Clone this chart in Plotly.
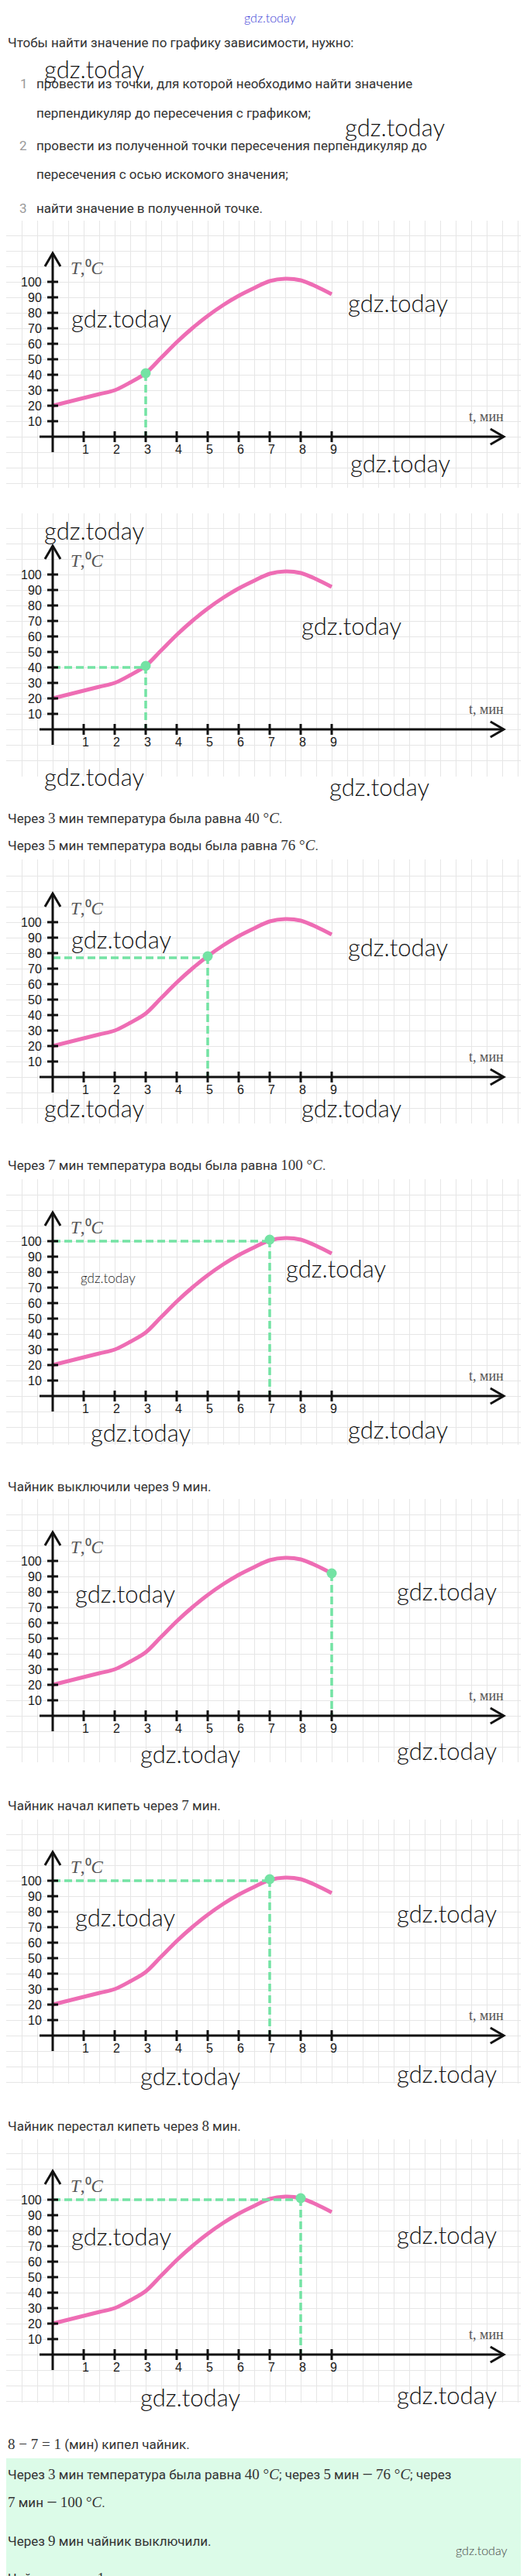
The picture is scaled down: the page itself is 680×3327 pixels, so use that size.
import plotly.graph_objects as go

W, H = 680, 3327

# ---------------- data ----------------
time_min = [0, 0.5, 1, 1.5, 2, 2.5, 3, 3.5, 4, 4.5, 5, 5.5, 6, 6.5, 7, 7.5, 8, 8.5, 9]
temp_c = [20, 22.5, 25, 27.5, 30, 35, 41, 51, 61, 70, 78, 85, 91, 96, 100.5, 102, 101, 97, 92]
x_ticks = [1, 2, 3, 4, 5, 6, 7, 8, 9]
y_ticks = [10, 20, 30, 40, 50, 60, 70, 80, 90, 100]

# reading point for each of the 7 panels
point_t = [3, 3, 5, 7, 9, 7, 8]
point_T = [41, 41, 78, 101, 92, 101, 101]
level_T = [None, 40, 77, 100, None, 100, 100]

# ---------------- layout constants (pixels) ----------------
panel_top = [277, 655, 1102, 1515, 1928, 2342, 2755]
panel_axis = [556, 934, 1383, 1795, 2208, 2621, 3033]
panel_bottom = [622, 995, 1443, 1858, 2268, 2683, 3095]
ORIGIN_X = 60
PX_PER_MIN = 40
PX_PER_DEG = 2

PINK = "#ee6db4"
GREEN = "#74e3a4"
GRID = "#e6e6e6"
AXIS = "#111111"
TEXT = "#333333"
WM_FONT = dict(family="Lato", size=31, color="#111111", weight=300)
MAIN_FONT = dict(family="Roboto", size=17, color=TEXT)
SERIF = "font-family:'Liberation Serif';font-size:19px"


def py(p):
    return 1 - p / H


def m(s):
    return f"<span style=\"{SERIF}\">{s}</span>"


fig = go.Figure()
shapes = []
annotations = []

for i in range(7):
    n = i + 1
    sx = "" if n == 1 else str(n)
    xr, yr = "x" + sx, "y" + sx
    top, axis, bottom = panel_top[i], panel_axis[i], panel_bottom[i]
    fig.update_layout(**{
        "xaxis" + sx: dict(domain=[0, 1], anchor=yr,
                           range=[-ORIGIN_X / PX_PER_MIN, (W - ORIGIN_X) / PX_PER_MIN],
                           tick0=0, dtick=0.5, showgrid=True, gridcolor=GRID, gridwidth=1,
                           showticklabels=False, zeroline=False, showline=False, ticks="",
                           fixedrange=True),
        "yaxis" + sx: dict(domain=[py(bottom), py(top)], anchor=xr,
                           range=[-(bottom - axis) / PX_PER_DEG, (axis - top) / PX_PER_DEG],
                           tick0=0, dtick=10, showgrid=True, gridcolor=GRID, gridwidth=1,
                           showticklabels=False, zeroline=False, showline=False, ticks="",
                           fixedrange=True),
    })

    # curve
    fig.add_trace(go.Scatter(x=time_min, y=temp_c, mode="lines", xaxis=xr, yaxis=yr,
                             line=dict(color=PINK, width=5, shape="spline", smoothing=0.9),
                             hoverinfo="skip", showlegend=False))
    # reading guides
    t0, T0, L0 = point_t[i], point_T[i], level_T[i]
    fig.add_trace(go.Scatter(x=[t0, t0], y=[T0, 0], mode="lines", xaxis=xr, yaxis=yr,
                             line=dict(color=GREEN, width=3.5, dash="10px,5px"),
                             hoverinfo="skip", showlegend=False))
    if L0 is not None:
        fig.add_trace(go.Scatter(x=[0, t0], y=[L0, L0], mode="lines", xaxis=xr, yaxis=yr,
                                 line=dict(color=GREEN, width=3.5, dash="10px,5px"),
                                 hoverinfo="skip", showlegend=False))
    fig.add_trace(go.Scatter(x=[t0], y=[T0], mode="markers", xaxis=xr, yaxis=yr,
                             marker=dict(color=GREEN, size=13),
                             hoverinfo="skip", showlegend=False))

    # axes with arrows
    x_end = 14.55
    y_end = 118.5
    shapes.append(dict(type="line", xref=xr, yref=yr, x0=-0.425, x1=x_end, y0=0, y1=0,
                       line=dict(color=AXIS, width=3)))
    shapes.append(dict(type="path", xref=xr, yref=yr,
                       path=f"M {x_end-0.43},5 L {x_end},0 L {x_end-0.43},-5",
                       line=dict(color=AXIS, width=3)))
    shapes.append(dict(type="line", xref=xr, yref=yr, x0=0, x1=0, y0=-10, y1=y_end,
                       line=dict(color=AXIS, width=3)))
    shapes.append(dict(type="path", xref=xr, yref=yr,
                       path=f"M -0.25,{y_end-8.5} L 0,{y_end} L 0.25,{y_end-8.5}",
                       line=dict(color=AXIS, width=3)))
    for k in x_ticks:
        shapes.append(dict(type="line", xref=xr, yref=yr, x0=k, x1=k, y0=-3.5, y1=3.5,
                           line=dict(color=AXIS, width=3)))
        annotations.append(dict(xref=xr, yref=yr, x=k, y=0, yshift=-16, xshift=2,
                                text=str(k), showarrow=False,
                                font=dict(family="Liberation Sans", size=16, color="#1a1a1a")))
    for v in y_ticks:
        shapes.append(dict(type="line", xref=xr, yref=yr, x0=-0.175, x1=0.175, y0=v, y1=v,
                           line=dict(color=AXIS, width=3)))
        annotations.append(dict(xref=xr, yref=yr, x=0, y=v, xshift=-12, xanchor="right",
                                text=str(v), showarrow=False,
                                font=dict(family="Liberation Sans", size=16, color="#1a1a1a")))
    annotations.append(dict(xref=xr, yref=yr, x=0.52, y=109, xanchor="left",
                            text="<i>T</i>,⁰<i>C</i>", showarrow=False,
                            font=dict(family="Liberation Serif", size=23, color="#555555")))
    annotations.append(dict(xref=xr, yref=yr, x=13.38, y=13, xanchor="left",
                            text="t, мин", showarrow=False,
                            font=dict(family="Liberation Serif", size=18, color="#555555")))

# ---------------- page text ----------------
def txt(x, y, s, font=MAIN_FONT, anchor="left"):
    annotations.append(dict(xref="paper", yref="paper", x=x / W, y=py(y), xanchor=anchor,
                            yanchor="middle", text=s, showarrow=False, font=font))


txt(340, 14, "gdz.today", dict(family="Lato", size=16, color="#3b3bd6", weight=300), "center")
txt(0, 47, "Чтобы найти значение по графику зависимости, нужно:")
num_font = dict(family="Roboto", size=17, color="#9a9a9a")
txt(16, 100, "1", num_font)
txt(37, 100, "провести из точки, для которой необходимо найти значение")
txt(37, 138, "перпендикуляр до пересечения с графиком;")
txt(15, 180, "2", num_font)
txt(37, 180, "провести из полученной точки пересечения перпендикуляр до")
txt(37, 217, "пересечения с осью искомого значения;")
txt(15, 261, "3", num_font)
txt(37, 261, "найти значение в полученной точке.")

txt(0, 1048, f"Через {m('3')} мин температура была равна {m('40 °<i>C</i>')}.")
txt(0, 1083, f"Через {m('5')} мин температура воды была равна {m('76 °<i>C</i>')}.")
txt(0, 1496, f"Через {m('7')} мин температура воды была равна {m('100 °<i>C</i>')}.")
txt(0, 1911, f"Чайник выключили через {m('9')} мин.")
txt(0, 2323, f"Чайник начал кипеть через {m('7')} мин.")
txt(0, 2737, f"Чайник перестал кипеть через {m('8')} мин.")
txt(0, 3148, f"{m('8 − 7 = 1')} (мин) кипел чайник.")

shapes.append(dict(type="rect", xref="paper", yref="paper", x0=0, x1=1, y0=0, y1=py(3167),
                   fillcolor="#dcfbe8", line=dict(width=0), layer="below"))
txt(0, 3187, f"Через {m('3')} мин температура была равна {m('40 °<i>C</i>')}; через {m('5')} мин — {m('76 °<i>C</i>')}; через")
txt(0, 3223, f"{m('7')} мин — {m('100 °<i>C</i>')}.")
txt(0, 3273, f"Через {m('9')} мин чайник выключили.")
txt(0, 3321, f"Чайник кипел {m('1')} мин.")

# ---------------- watermarks ----------------
wm_x = [114, 501,
        148, 505, 508,
        113, 445, 113, 481,
        148, 505, 113, 445,
        425, 173, 505,
        153, 568, 237, 568,
        153, 568, 237, 568,
        148, 568, 237, 568]
wm_y = [81, 156,
        403, 383, 590,
        677, 800, 995, 1008,
        1205, 1215, 1423, 1423,
        1630, 1842, 1838,
        2050, 2047, 2257, 2253,
        2468, 2463, 2673, 2670,
        2880, 2878, 3088, 3085]
for xw, yw in zip(wm_x, wm_y):
    txt(xw, yw, "gdz.today", WM_FONT, "center")
txt(131, 1643, "gdz.today", dict(family="Lato", size=17, color="#222222", weight=300), "center")
txt(613, 3285, "gdz.today", dict(family="Lato", size=16, color="#444444", weight=300), "center")

fig.update_layout(width=W, height=H, autosize=False,
                  margin=dict(l=0, r=0, t=0, b=0),
                  paper_bgcolor="white", plot_bgcolor="white",
                  shapes=shapes, annotations=annotations, showlegend=False)

fig.write_html("out.html")
